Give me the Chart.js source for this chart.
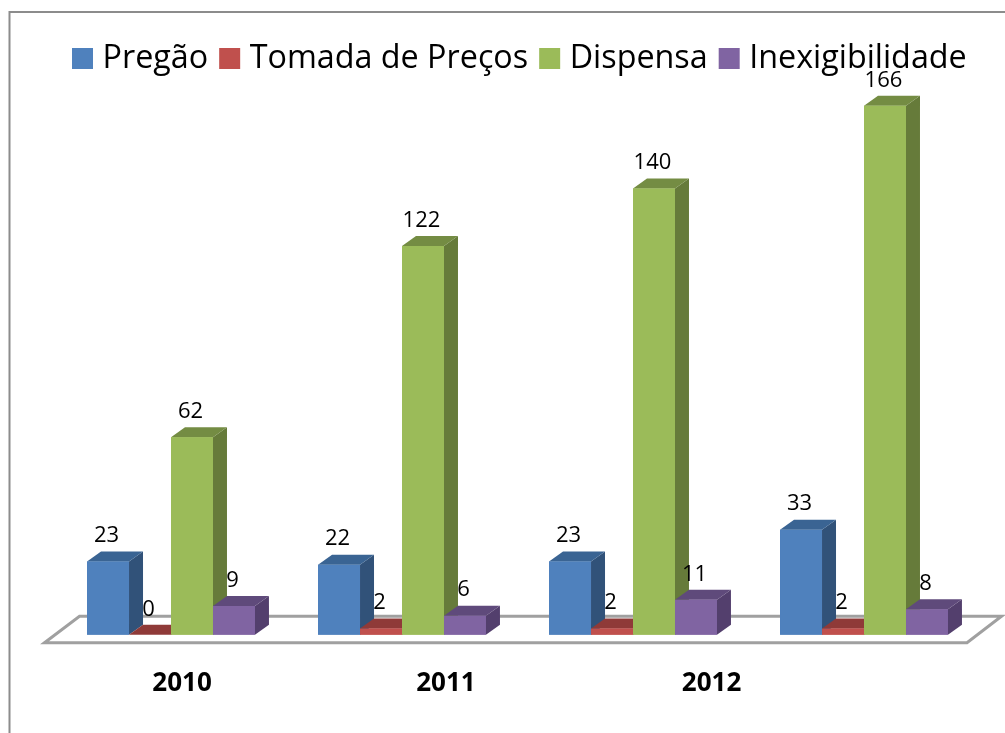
<!DOCTYPE html>
<html><head><meta charset="utf-8">
<style>html,body{margin:0;padding:0;background:#fff}canvas{display:block}#w{width:1005px;height:733px;position:relative}</style>
<script src="https://cdn.jsdelivr.net/npm/chart.js@4"></script>
</head><body><div id="w"><canvas id="c" width="1005" height="733"></canvas></div>
<script>
const categories = ['2010', '2011', '2012', ''];
const pregao = [23, 22, 23, 33];
const tomada = [0, 2, 2, 2];
const dispensa = [62, 122, 140, 166];
const inexig = [9, 6, 11, 8];
const yearLabels = ['2010', '2011', '2012'];
const yearTicks = [0.048, 1.19, 2.34];

const seriesNames = ['Pregão', 'Tomada de Preços', 'Dispensa', 'Inexigibilidade'];
const front = ['#4F81BD', '#C0504D', '#9BBB59', '#8064A2'];
const topFace = ['#3A6493', '#8F3A38', '#748C43', '#5F4A7B'];
const sideFace = ['#315279', '#7A312F', '#667B3A', '#533F6D'];
const DX = 14, DY = 10;

const poly = (ctx, pts, fill) => {
  ctx.beginPath();
  pts.forEach((p, i) => i ? ctx.lineTo(p[0], p[1]) : ctx.moveTo(p[0], p[1]));
  ctx.closePath();
  ctx.fillStyle = fill;
  ctx.fill();
};

const scene = {
  id: 'scene',
  beforeDraw(chart) {
    const ctx = chart.ctx;
    ctx.save();
    ctx.strokeStyle = '#8C8C8C';
    ctx.lineWidth = 2;
    ctx.beginPath();
    ctx.moveTo(9.5, chart.height);
    ctx.lineTo(9.5, 12);
    ctx.lineTo(chart.width, 12);
    ctx.stroke();
    ctx.restore();
  },
  beforeDatasetsDraw(chart) {
    const ctx = chart.ctx, a = chart.chartArea, y0 = chart.scales.y.getPixelForValue(0);
    ctx.save();
    ctx.strokeStyle = '#A0A0A0';
    ctx.lineWidth = 3;
    ctx.beginPath();
    ctx.moveTo(a.left - 11, y0 + 8);
    ctx.lineTo(a.left + 24, y0 - 18.5);
    ctx.lineTo(a.right + 22, y0 - 18.5);
    ctx.lineTo(a.right - 12.5, y0 + 8);
    ctx.closePath();
    ctx.stroke();
    ctx.restore();
  },
  afterDatasetsDraw(chart) {
    const ctx = chart.ctx;
    ctx.save();
    const metas = chart.data.datasets.map((d, i) => chart.getDatasetMeta(i));
    categories.forEach((c, ci) => {
      metas.forEach((m, si) => {
        const b = m.data[ci];
        const l = b.x - b.width / 2, r = b.x + b.width / 2, t = b.y, bt = b.base;
        poly(ctx, [[r, t], [r + DX, t - DY], [r + DX, bt - DY], [r, bt]], sideFace[si]);
        poly(ctx, [[l, t], [l + DX, t - DY], [r + DX, t - DY], [r, t]], topFace[si]);
        poly(ctx, [[l, t], [r, t], [r, bt], [l, bt]], front[si]);
      });
    });
    ctx.fillStyle = '#000';
    ctx.font = '22px "Open Sans"';
    ctx.textAlign = 'center';
    ctx.textBaseline = 'middle';
    metas.forEach((m, si) => {
      chart.data.datasets[si].data.forEach((v, ci) => {
        const b = m.data[ci];
        ctx.fillText(String(v), b.x - 1.5, b.y - 25.5);
      });
    });
    // legend
    let x = 72;
    ctx.textAlign = 'left';
    ctx.font = '32.3px "Open Sans"';
    chart.data.datasets.forEach((d, i) => {
      ctx.fillStyle = d.backgroundColor;
      ctx.fillRect(x, 48, 21, 21);
      ctx.fillStyle = '#000';
      ctx.fillText(d.label, x + 30.5, 59);
      x += 30.5 + ctx.measureText(d.label).width + 11;
    });
    ctx.restore();
  }
};

new Chart(document.getElementById('c'), {
  type: 'bar',
  data: {
    labels: categories,
    datasets: [pregao, tomada, dispensa, inexig].map((d, i) => ({
      label: seriesNames[i], data: d, backgroundColor: front[i], borderWidth: 0,
      barPercentage: 1, categoryPercentage: 0.727
    }))
  },
  options: {
    responsive: false,
    animation: false,
    layout: { padding: { left: 55.5, right: 25.5, top: 93, bottom: 1 } },
    plugins: {
      tooltip: { enabled: false },
      legend: { display: false }
    },
    scales: {
      x: { display: false },
      y: { display: false, min: 0, max: 170 },
      x2: {
        type: 'linear', position: 'bottom', min: -0.5, max: 3.5, offset: false,
        grid: { display: false, drawTicks: false }, border: { display: false },
        afterBuildTicks(s) { s.ticks = yearTicks.map(v => ({ value: v })); },
        ticks: {
          autoSkip: false, maxRotation: 0, padding: 33, color: '#000',
          font: { family: '"Open Sans"', size: 26, weight: 'bold' },
          callback(v) { return yearLabels[yearTicks.indexOf(v)]; }
        }
      }
    }
  },
  plugins: [scene]
});
</script></body></html>
